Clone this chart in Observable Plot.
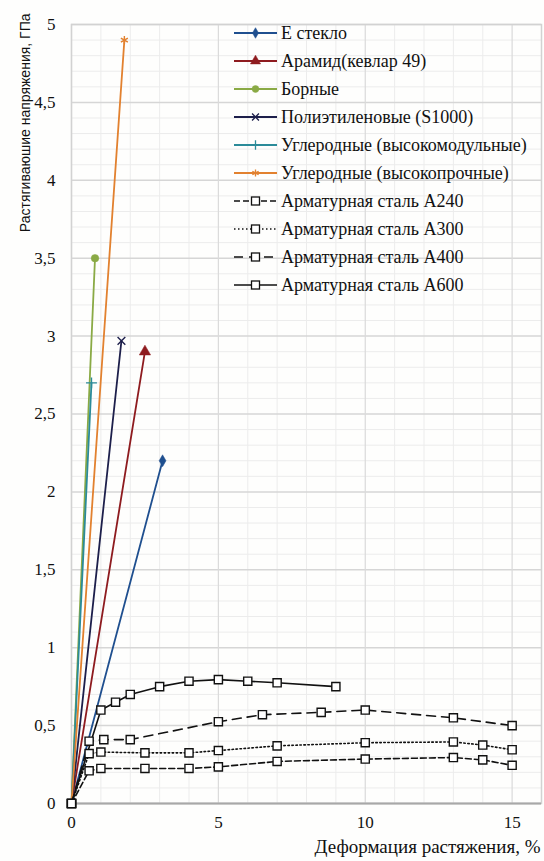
<!DOCTYPE html>
<html>
<head>
<meta charset="utf-8">
<script src="https://cdn.jsdelivr.net/npm/d3@7"></script>
<script src="https://cdn.jsdelivr.net/npm/@observablehq/plot@0.6"></script>
<style>
  html, body { margin: 0; padding: 0; background: #fefefd; }
  #wrap { position: relative; width: 544px; height: 861px; }
  #legend { position: absolute; left: 233px; top: 19px; font-family: "Liberation Serif", Tinos, "DejaVu Serif", "Noto Serif", serif; font-size: 18px; color: #111; }
  .row { display: flex; align-items: center; height: 28px; white-space: nowrap; }
  .row svg { flex: none; margin-right: 3px; }
</style>
</head>
<body>
<div id="wrap"><div id="legend"></div></div>
<script>
// ---- data ----
const seriesNames = [
  "Е стекло", "Арамид(кевлар 49)", "Борные", "Полиэтиленовые (S1000)",
  "Углеродные (высокомодульные)", "Углеродные (высокопрочные)",
  "Арматурная сталь А240", "Арматурная сталь А300", "Арматурная сталь А400", "Арматурная сталь А600"
];
const eGlassX = [0, 3.1],  eGlassY = [0, 2.2];
const aramidX = [0, 2.5],  aramidY = [0, 2.9];
const boronX  = [0, 0.8],  boronY  = [0, 3.5];
const peX     = [0, 1.7],  peY     = [0, 2.97];
const carbonHMX = [0, 0.68], carbonHMY = [0, 2.7];
const carbonHSX = [0, 1.8],  carbonHSY = [0, 4.9];
const a240X = [0, 0.6, 1.0, 2.5, 4.0, 5.0, 7.0, 10, 13, 14, 15];
const a240Y = [0, 0.21, 0.225, 0.225, 0.225, 0.235, 0.27, 0.285, 0.295, 0.28, 0.245];
const a300X = [0, 0.6, 1.0, 2.5, 4.0, 5.0, 7.0, 10, 13, 14, 15];
const a300Y = [0, 0.32, 0.33, 0.325, 0.325, 0.34, 0.37, 0.39, 0.395, 0.375, 0.345];
const a400X = [0, 0.6, 1.1, 2.0, 5.0, 6.5, 8.5, 10, 13, 15];
const a400Y = [0, 0.40, 0.41, 0.41, 0.525, 0.57, 0.585, 0.60, 0.55, 0.50];
const a600X = [0, 1.0, 1.5, 2.0, 3.0, 4.0, 5.0, 6.0, 7.0, 9.0];
const a600Y = [0, 0.6, 0.65, 0.70, 0.75, 0.785, 0.795, 0.785, 0.775, 0.75];
const xTicks = [0, 5, 10, 15];
const yTicks = [0, 0.5, 1, 1.5, 2, 2.5, 3, 3.5, 4, 4.5, 5];
const xLabel = "Деформация растяжения, %";
const yLabel = "Растягиваюшие напряжения, ГПа";

// ---- styles ----
const serif = "'Liberation Serif', Tinos, 'DejaVu Serif', 'Noto Serif', serif";
const fiberStyle = [
  {color: "#1f4f8f", symbol: "diamond", r: 3.6, filled: true},
  {color: "#8e1b1f", symbol: "triangle", r: 4.2, filled: true},
  {color: "#8aaa45", symbol: "circle", r: 3.8, filled: true},
  {color: "#1d1f4b", symbol: "times", r: 3.6, filled: false},
  {color: "#2b8b99", symbol: "plus", r: 3.6, filled: false},
  {color: "#e2812f", symbol: "asterisk", r: 3.8, filled: false}
];
const steelDash = ["6,3", "1.5,2.5", "9,6", null];

const toRows = (xs, ys, name) => xs.map((x, i) => ({x, y: ys[i], name}));
const fibers = [
  toRows(eGlassX, eGlassY, seriesNames[0]),
  toRows(aramidX, aramidY, seriesNames[1]),
  toRows(boronX, boronY, seriesNames[2]),
  toRows(peX, peY, seriesNames[3]),
  toRows(carbonHMX, carbonHMY, seriesNames[4]),
  toRows(carbonHSX, carbonHSY, seriesNames[5])
];
const steels = [
  toRows(a240X, a240Y, seriesNames[6]),
  toRows(a300X, a300Y, seriesNames[7]),
  toRows(a400X, a400Y, seriesNames[8]),
  toRows(a600X, a600Y, seriesNames[9])
];

const fmt = d => String(d).replace(".", ",");
const yMinor = d3.range(0, 5.0001, 0.1).filter(v => Math.abs(v * 2 - Math.round(v * 2)) > 1e-6);
const xMinor = d3.range(0, 16.5, 1).filter(v => v % 5 !== 0);

const marks = [
  Plot.ruleY(yMinor, {stroke: "#ececec", strokeWidth: 1}),
  Plot.ruleX(xMinor, {stroke: "#ececec", strokeWidth: 1}),
  Plot.ruleY(yTicks, {stroke: "#d6d6d6", strokeWidth: 1.5}),
  Plot.ruleX(xTicks, {stroke: "#dadada", strokeWidth: 1.2}),
  Plot.frame({stroke: "#d2d2d2", strokeWidth: 1.5}),
  Plot.ruleY([0], {stroke: "#a8a8a8", strokeWidth: 2}),
  Plot.axisY({ticks: yTicks, tickSize: 0, tickPadding: 16, tickFormat: fmt, label: null, fontFamily: serif}),
  Plot.axisX({ticks: xTicks, tickSize: 0, tickPadding: 12, tickFormat: fmt, label: null, fontFamily: serif}),
  Plot.text([xLabel], {frameAnchor: "bottom-right", text: d => d, textAnchor: "end", dy: 49, dx: -1, fontSize: 19, fontFamily: serif}),
  Plot.text([yLabel], {frameAnchor: "top-left", text: d => d, rotate: -90, textAnchor: "end", dx: -51, dy: -11,
    fontSize: 14, fontFamily: "'Liberation Sans', Arial, sans-serif"})
];
fibers.forEach((rows, i) => {
  const s = fiberStyle[i];
  marks.push(Plot.line(rows, {x: "x", y: "y", stroke: s.color, strokeWidth: 1.8}));
  marks.push(Plot.dot(rows.slice(1), {x: "x", y: "y", symbol: s.symbol, r: s.r,
    fill: s.filled ? s.color : "none", stroke: s.color, strokeWidth: s.filled ? 0.5 : 1.4}));
});
steels.forEach((rows, i) => {
  marks.push(Plot.line(rows, {x: "x", y: "y", stroke: "#111", strokeWidth: 1.6, strokeDasharray: steelDash[i]}));
});
steels.forEach(rows => {
  marks.push(Plot.dot(rows, {x: "x", y: "y", symbol: "square", r: 4.6, fill: "white", stroke: "#111", strokeWidth: 1.4}));
});

const chart = Plot.plot({
  width: 544, height: 861,
  marginLeft: 71, marginRight: 3, marginTop: 24, marginBottom: 58,
  x: {domain: [0, 16]},
  y: {domain: [0, 5]},
  style: {background: "transparent", fontFamily: serif, fontSize: "17px", color: "#111"},
  marks
});
document.getElementById("wrap").prepend(chart);

// ---- legend overlay ----
const legend = d3.select("#legend");
const symbolType = {diamond: d3.symbolDiamond, triangle: d3.symbolTriangle, circle: d3.symbolCircle,
  times: d3.symbolTimes, plus: d3.symbolPlus, asterisk: d3.symbolAsterisk, square: d3.symbolSquare};
seriesNames.forEach((name, i) => {
  const row = legend.append("div").attr("class", "row");
  const svg = row.append("svg").attr("width", 45).attr("height", 16);
  if (i < 6) {
    const s = fiberStyle[i];
    svg.append("line").attr("x1", 1).attr("x2", 44).attr("y1", 8).attr("y2", 8)
      .attr("stroke", s.color).attr("stroke-width", 1.8);
    svg.append("path").attr("transform", "translate(22.5,8)")
      .attr("d", d3.symbol(symbolType[s.symbol], Math.PI * s.r * s.r * 0.8)())
      .attr("fill", s.filled ? s.color : "none").attr("stroke", s.color).attr("stroke-width", s.filled ? 0.5 : 1.3);
  } else {
    const dash = steelDash[i - 6];
    svg.append("line").attr("x1", 1).attr("x2", 44).attr("y1", 8).attr("y2", 8)
      .attr("stroke", "#111").attr("stroke-width", 1.5).attr("stroke-dasharray", dash);
    svg.append("rect").attr("x", 18.5).attr("y", 4).attr("width", 8).attr("height", 8)
      .attr("fill", "white").attr("stroke", "#111").attr("stroke-width", 1.3);
  }
  row.append("span").text(name);
});
</script>
</body>
</html>
